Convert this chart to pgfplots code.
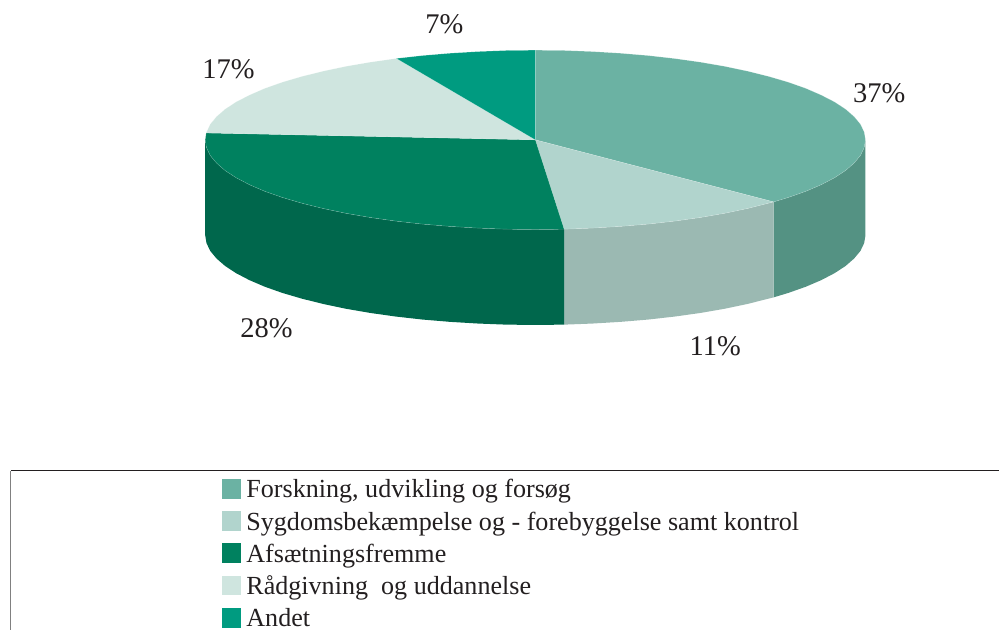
\documentclass[border=0pt]{standalone}
\usepackage{fontspec}
\setmainfont{Liberation Serif}
\usepackage{pgfplots}
\pgfplotsset{compat=1.18}
\definecolor{txt}{HTML}{231F20}
\definecolor{topA}{HTML}{6BB2A3}
\definecolor{sideA}{HTML}{549283}
\definecolor{topB}{HTML}{B1D4CD}
\definecolor{sideB}{HTML}{9BB9B2}
\definecolor{topC}{HTML}{00815F}
\definecolor{sideC}{HTML}{00674C}
\definecolor{topD}{HTML}{CFE5DF}
\definecolor{topE}{HTML}{009B80}
\begin{document}
\begin{tikzpicture}
\begin{axis}[
  at={(0,0)}, anchor=south west,
  scale only axis, width=999pt, height=630pt,
  xmin=-0.6, xmax=998.4, ymin=-0.4, ymax=629.6, y dir=reverse,
  axis lines=none, clip=false,
  every axis plot/.append style={no markers},
  font=\fontsize{26}{30}\selectfont,
  legend cell align=left,
  legend image code/.code={\path[draw=none,fill=none] (0pt,0pt) -- (24.5pt,0pt);\fill[#1,draw=none] (0pt,-9.0pt) rectangle (19.5pt,10.8pt);},
  legend style={
    at={(axis cs:221.4,473.2)}, anchor=north west,
    draw=none, fill=none, inner sep=0pt, outer sep=0pt,
    row sep=0pt,
    nodes={inner sep=0pt, outer sep=0pt, text=txt, text height=24.5pt, text depth=7.8pt, font=\fontsize{26.1}{30}\selectfont},
  },
]
% page frame (invisible) and the legend frame
\addplot[draw=none, forget plot] coordinates {(-0.6,-0.4) (998.4,629.6)};
\addplot[draw=txt, line width=1pt, forget plot] coordinates {(998.4,470.5) (10,470.5)};
\addplot[draw=gray, line width=1pt, forget plot] coordinates {(10,470.5) (10,629.6)};
% walls
\addplot[fill=sideA, draw=none, forget plot] coordinates {
 (865.3,139.5) (864.0,147.3) (860.3,155.1) (854.0,162.7) (845.4,170.2) (834.4,177.4) (821.0,184.4) (805.6,191.0) (788.0,197.2) (773.4,201.6)
 (773.4,297.1) (788.0,292.7) (805.6,286.5) (821.0,279.9) (834.4,272.9) (845.4,265.7) (854.0,258.2) (860.3,250.6) (864.0,242.8) (865.3,235.0)};
\addplot[fill=sideB, draw=none, forget plot] coordinates {
 (773.4,201.6) (747.3,208.2) (724.5,213.0) (700.2,217.2) (674.6,220.8) (648.0,223.8) (620.5,226.1) (592.3,227.8) (563.8,228.9)
 (563.8,324.4) (592.3,323.3) (620.5,321.6) (648.0,319.3) (674.6,316.3) (700.2,312.7) (724.5,308.5) (747.3,303.7) (773.4,297.1)};
\addplot[fill=sideC, draw=none, forget plot] coordinates {
 (563.8,228.9) (535.0,229.2) (506.2,228.9) (477.7,227.8) (449.5,226.1) (422.0,223.8) (395.4,220.8) (369.9,217.2) (345.5,213.0) (322.7,208.2) (301.4,202.9) (282.0,197.2) (264.4,191.0) (249.0,184.4) (235.6,177.4) (224.6,170.2) (216.0,162.7) (209.7,155.1) (206.0,147.3) (204.7,139.5)
 (204.7,235.0) (206.0,242.8) (209.7,250.6) (216.0,258.2) (224.6,265.7) (235.6,272.9) (249.0,279.9) (264.4,286.5) (282.0,292.7) (301.4,298.4) (322.7,303.7) (345.5,308.5) (369.9,312.7) (395.4,316.3) (422.0,319.3) (449.5,321.6) (477.7,323.3) (506.2,324.4) (535.0,324.7) (563.8,324.4)};
% tops
\addplot[fill=topA, draw=white, draw opacity=0.3, line width=0.4pt, forget plot] coordinates {
 (535,139.5) (535.0,49.8) (563.8,50.1) (592.3,51.2) (620.5,52.9) (648.0,55.2) (674.6,58.2) (700.2,61.8) (724.5,66.0) (747.3,70.8) (768.6,76.1) (788.0,81.8) (805.6,88.0) (821.0,94.7) (834.4,101.6) (845.4,108.8) (854.0,116.3) (860.3,123.9) (864.0,131.7) (865.3,139.5) (864.0,147.3) (860.3,155.1) (854.0,162.7) (845.4,170.2) (834.4,177.4) (821.0,184.4) (805.6,191.0) (788.0,197.2) (773.4,201.6) (535,139.5)};
\addplot[fill=topB, draw=white, draw opacity=0.3, line width=0.4pt, forget plot] coordinates {
 (535,139.5) (773.4,201.6) (747.3,208.2) (724.5,213.0) (700.2,217.2) (674.6,220.8) (648.0,223.8) (620.5,226.1) (592.3,227.8) (563.8,228.9) (535,139.5)};
\addplot[fill=topC, draw=white, draw opacity=0.3, line width=0.4pt, forget plot] coordinates {
 (535,139.5) (563.8,228.9) (535.0,229.2) (506.2,228.9) (477.7,227.8) (449.5,226.1) (422.0,223.8) (395.4,220.8) (369.9,217.2) (345.5,213.0) (322.7,208.2) (301.4,202.9) (282.0,197.2) (264.4,191.0) (249.0,184.4) (235.6,177.4) (224.6,170.2) (216.0,162.7) (209.7,155.1) (206.0,147.3) (204.7,139.5) (205.7,132.6) (535,139.5)};
\addplot[fill=topD, draw=white, draw opacity=0.3, line width=0.4pt, forget plot] coordinates {
 (535,139.5) (205.7,132.6) (209.7,123.9) (216.0,116.3) (224.6,108.8) (235.6,101.6) (249.0,94.7) (264.4,88.0) (282.0,81.8) (301.4,76.1) (322.7,70.8) (345.5,66.0) (369.9,61.8) (396.0,58.1) (535,139.5)};
\addplot[fill=topE, draw=white, draw opacity=0.3, line width=0.4pt, forget plot] coordinates {
 (535,139.5) (396.0,58.1) (422.0,55.2) (449.5,52.9) (477.7,51.2) (506.2,50.1) (535.0,49.8) (535,139.5)};
% legend
\addlegendimage{topA}\addlegendentry{Forskning, udvikling og forsøg}
\addlegendimage{topB}\addlegendentry{Sygdomsbekæmpelse og - forebyggelse samt kontrol}
\addlegendimage{topC}\addlegendentry{Afsætningsfremme}
\addlegendimage{topD}\addlegendentry{Rådgivning\ \ og uddannelse}
\addlegendimage{topE}\addlegendentry{Andet}
% percentage labels
\node[text=txt, font=\fontsize{28.5}{32}\selectfont] at (axis cs:879,93) {37\%};
\node[text=txt, font=\fontsize{28.5}{32}\selectfont] at (axis cs:444,24) {7\%};
\node[text=txt, font=\fontsize{28.5}{32}\selectfont] at (axis cs:228,69) {17\%};
\node[text=txt, font=\fontsize{28.5}{32}\selectfont] at (axis cs:266,328) {28\%};
\node[text=txt, font=\fontsize{28.5}{32}\selectfont] at (axis cs:715,346) {11\%};
\end{axis}
\end{tikzpicture}
\end{document}
